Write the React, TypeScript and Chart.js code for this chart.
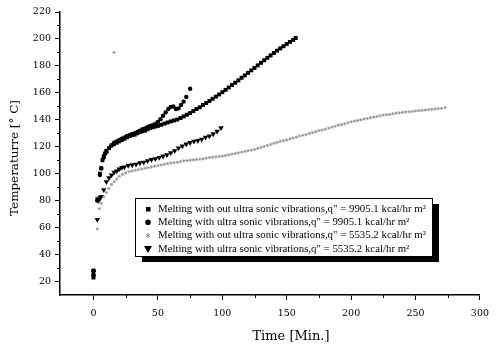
import React, { useEffect, useRef } from 'react';
import { Chart, registerables } from 'chart.js';
Chart.register(...registerables);

// ---- data ----
const squaresTime = [0, 0, 3, 5, 6, 7, 8, 9, 10, 12, 14, 16, 18, 20, 22, 24, 26, 28, 30, 32, 34, 36, 38, 40, 42, 44, 46, 48, 50, 52.5, 55, 57.5, 60, 62.5, 65, 67.5, 70, 72.5, 75, 77.5, 80, 82.5, 85, 87.5, 90, 92.5, 95, 97.5, 100, 102.5, 105, 107.5, 110, 112.5, 115, 117.5, 120, 122.5, 125, 127.5, 130, 132.5, 135, 137.5, 140, 142.5, 145, 147.5, 150, 152.5, 155, 157];
const squaresTemp = [23, 28, 81, 100, 104, 110, 113, 115, 117, 119, 121, 122, 123, 124, 125, 126, 127, 128, 128.5, 129, 130, 131, 131.5, 132, 133, 134, 134.5, 135, 135.5, 136.3, 137.2, 138, 138.8, 139.5, 140.2, 141.3, 142.5, 143.8, 145, 146.5, 148, 149.3, 151, 152.5, 154, 155.6, 157.2, 158.8, 160.5, 162.2, 164, 165.8, 167.5, 169.3, 171.2, 173, 174.8, 176.7, 178.5, 180.4, 182.3, 184.2, 186, 187.8, 189.6, 191.3, 193, 194.6, 196.2, 197.8, 199.3, 200.7, 202];

const circlesTime = [0, 0, 3, 5, 6, 8, 10, 12, 14, 16, 18, 20, 22, 24, 26, 28, 30, 32, 34, 36, 38, 40, 42, 44, 46, 48, 50, 52, 54, 56, 58, 60, 62, 64, 66, 68, 70, 72, 75];
const circlesTemp = [25, 28, 80, 99, 104, 112, 116, 119, 121, 123, 124, 125, 126, 127, 128, 128.5, 129.5, 130, 131, 132, 133, 133.5, 134.5, 135.5, 136, 137, 138.5, 140.5, 143, 145.5, 148, 149.5, 150, 148, 148.5, 151, 153.5, 157, 163];

const starsTime = [3, 4.5, 6, 8, 10, 12, 14, 16, 18, 20, 22.5, 25, 27.5, 30, 32.5, 35, 37.5, 40, 42.5, 45, 47.5, 50, 52.5, 55, 57.5, 60, 62.5, 65, 67.5, 70, 72.5, 75, 77.5, 80, 82.5, 85, 87.5, 90, 92.5, 95, 97.5, 100, 102.5, 105, 107.5, 110, 112.5, 115, 117.5, 120, 122.5, 125, 127.5, 130, 132.5, 135, 137.5, 140, 142.5, 145, 147.5, 150, 152.5, 155, 157.5, 160, 162.5, 165, 167.5, 170, 172.5, 175, 177.5, 180, 182.5, 185, 187.5, 190, 192.5, 195, 197.5, 200, 202.5, 205, 207.5, 210, 212.5, 215, 217.5, 220, 222.5, 225, 227.5, 230, 232.5, 235, 237.5, 240, 242.5, 245, 247.5, 250, 252.5, 255, 257.5, 260, 262.5, 265, 267.5, 270, 273, 16];
const starsTemp = [59, 74, 78, 83, 86, 89, 92, 94, 96, 98, 99.5, 100.5, 101.5, 102, 102.5, 103, 103.5, 104, 104.5, 105, 105.5, 106, 106.5, 107, 107.5, 108, 108.2, 108.5, 109, 109.5, 109.8, 110, 110.3, 110.5, 110.8, 111, 111.5, 112, 112.2, 112.5, 112.8, 113, 113.5, 114, 114.5, 115, 115.5, 116, 116.5, 117, 117.5, 118, 118.8, 119.5, 120.2, 121, 121.8, 122.5, 123.2, 124, 124.5, 125, 125.8, 126.5, 127.2, 128, 128.5, 129, 129.8, 130.5, 131.2, 132, 132.5, 133, 133.8, 134.5, 135.2, 136, 136.5, 137, 137.8, 138.5, 139, 139.5, 140, 140.5, 141, 141.5, 142, 142.5, 143, 143.5, 143.8, 144, 144.5, 145, 145.2, 145.5, 145.8, 146, 146.2, 146.5, 146.8, 147, 147.2, 147.5, 147.8, 148, 148.2, 148.5, 149, 190];

const trianglesTime = [0, 0, 3, 4, 5, 6, 8, 10, 12, 14, 16, 18, 20, 22, 24, 27, 30, 33, 36, 39, 42, 45, 48, 51, 54, 57, 60, 63, 66, 69, 72, 75, 78, 81, 84, 87, 90, 93, 96, 99];
const trianglesTemp = [24, 27, 66, 80, 82, 83, 88, 94, 97, 99, 101, 102, 103.5, 104.5, 105, 106, 106.5, 107, 108, 108.5, 109.5, 110.5, 111, 112, 113, 114, 115.5, 117, 119, 120.5, 122, 123, 124, 124.5, 125.5, 127, 128, 129.5, 131.5, 134];

const seriesLabels = [
  'Melting with out ultra sonic vibrations,q" = 9905.1 kcal/hr m²',
  'Melting with ultra sonic vibrations,q" = 9905.1 kcal/hr m²',
  'Melting with out ultra sonic vibrations,q" = 5535.2 kcal/hr m²',
  'Melting with ultra sonic vibrations,q" = 5535.2 kcal/hr m²',
];

const xTickValues = [0, 50, 100, 150, 200, 250, 300];
const yTickValues = [20, 40, 60, 80, 100, 120, 140, 160, 180, 200, 220];
const xMinorValues = [25, 75, 125, 175, 225, 275];
const yMinorValues = [30, 50, 70, 90, 110, 130, 150, 170, 190, 210];

const xTitle = 'Time [Min.]';
const yTitle = 'Temperaturre [° C]';

const pts = (xs: number[], ys: number[]) => xs.map((x, i) => ({ x, y: ys[i] }));

const SERIF = '"DejaVu Serif", "Liberation Serif", serif';
const TIMES = '"Liberation Serif", "DejaVu Serif", serif';
const GREY = '#8a8a8a';

function fitFont(ctx: CanvasRenderingContext2D, text: string, target: number, base: number, fam: string) {
  ctx.font = `${base}px ${fam}`;
  const w = ctx.measureText(text).width;
  return (base * target) / w;
}

function drawMarker(ctx: CanvasRenderingContext2D, kind: number, x: number, y: number) {
  ctx.save();
  if (kind === 0) {
    ctx.fillStyle = '#000';
    ctx.fillRect(x - 2, y - 2, 4.5, 4.5);
  } else if (kind === 1) {
    ctx.fillStyle = '#000';
    ctx.beginPath();
    ctx.arc(x, y, 2.8, 0, Math.PI * 2);
    ctx.fill();
  } else if (kind === 2) {
    ctx.strokeStyle = GREY;
    ctx.lineWidth = 1;
    ctx.beginPath();
    for (let k = 0; k < 3; k++) {
      const a = (k * Math.PI) / 3 + Math.PI / 2;
      ctx.moveTo(x - 2.5 * Math.cos(a), y - 2.5 * Math.sin(a));
      ctx.lineTo(x + 2.5 * Math.cos(a), y + 2.5 * Math.sin(a));
    }
    ctx.stroke();
  } else {
    ctx.fillStyle = '#000';
    ctx.beginPath();
    ctx.moveTo(x - 4, y - 3);
    ctx.lineTo(x + 4, y - 3);
    ctx.lineTo(x, y + 4);
    ctx.closePath();
    ctx.fill();
  }
  ctx.restore();
}

const extrasPlugin = {
  id: 'extras',
  afterDraw(chart: any) {
    const ctx: CanvasRenderingContext2D = chart.ctx;
    const xs = chart.scales.x;
    const ys = chart.scales.y;
    const area = chart.chartArea;
    ctx.save();
    // minor ticks
    ctx.strokeStyle = '#000';
    ctx.lineWidth = 1;
    ctx.beginPath();
    xMinorValues.forEach((v) => {
      const px = Math.round(xs.getPixelForValue(v)) + 0.5;
      ctx.moveTo(px, area.bottom);
      ctx.lineTo(px, area.bottom + 3);
    });
    yMinorValues.forEach((v) => {
      const py = Math.round(ys.getPixelForValue(v)) + 0.5;
      ctx.moveTo(area.left, py);
      ctx.lineTo(area.left - 3, py);
    });
    ctx.stroke();

    // axis titles
    ctx.fillStyle = '#000';
    ctx.textAlign = 'center';
    ctx.textBaseline = 'middle';
    const xs1 = Math.min(13, fitFont(ctx, xTitle, 88, 12, SERIF));
    ctx.font = `${xs1}px ${SERIF}`;
    ctx.fillText(xTitle, 291, 337);
    const ys1 = Math.min(13, fitFont(ctx, yTitle, 116, 12, SERIF));
    ctx.font = `${ys1}px ${SERIF}`;
    ctx.save();
    ctx.translate(15, 158);
    ctx.rotate(-Math.PI / 2);
    ctx.fillText(yTitle, 0, 0);
    ctx.restore();

    // legend box with shadow
    const bx = 135, by = 198, bw = 297, bh = 58;
    ctx.fillStyle = '#000';
    ctx.fillRect(bx + 7, by + 6, bw, bh);
    ctx.fillStyle = '#fff';
    ctx.fillRect(bx, by, bw, bh);
    ctx.strokeStyle = '#000';
    ctx.lineWidth = 1;
    ctx.strokeRect(bx + 0.5, by + 0.5, bw, bh);
    const ls = fitFont(ctx, seriesLabels[0], 268, 11, TIMES);
    ctx.font = `${ls}px ${TIMES}`;
    ctx.textAlign = 'left';
    ctx.textBaseline = 'middle';
    seriesLabels.forEach((lab, i) => {
      const ry = 209 + i * 13.3;
      drawMarker(ctx, i, 148, ry);
      ctx.fillStyle = '#000';
      ctx.fillText(lab, 158, ry);
    });
    ctx.restore();
  },
};

export default function App() {
  const ref = useRef<HTMLCanvasElement>(null);
  useEffect(() => {
    document.body.style.margin = '0';
    const canvas = ref.current!;
    const chart = new Chart(canvas, {
      type: 'scatter',
      data: {
        datasets: [
          {
            label: seriesLabels[2],
            data: pts(starsTime, starsTemp),
            pointStyle: 'star',
            pointRadius: 1.6,
            borderColor: GREY,
            backgroundColor: GREY,
            borderWidth: 0.7,
          },
          {
            label: seriesLabels[3],
            data: pts(trianglesTime, trianglesTemp),
            pointStyle: 'triangle',
            rotation: 180,
            pointRadius: 3.2,
            borderColor: '#000',
            backgroundColor: '#000',
            borderWidth: 0,
          },
          {
            label: seriesLabels[0],
            data: pts(squaresTime, squaresTemp),
            pointStyle: 'rect',
            pointRadius: 2.8,
            borderColor: '#000',
            backgroundColor: '#000',
            borderWidth: 0,
          },
          {
            label: seriesLabels[1],
            data: pts(circlesTime, circlesTemp),
            pointStyle: 'circle',
            pointRadius: 2.2,
            borderColor: '#000',
            backgroundColor: '#000',
            borderWidth: 0,
          },
        ],
      },
      options: {
        responsive: false,
        animation: false,
        layout: { padding: { left: 0, top: 12, right: 11, bottom: 0 } },
        plugins: { legend: { display: false }, tooltip: { enabled: false } },
        scales: {
          x: {
            type: 'linear',
            min: -26,
            max: 300,
            afterBuildTicks: (s: any) => {
              s.ticks = xTickValues.map((v) => ({ value: v }));
            },
            afterFit: (s: any) => {
              s.height = 52;
            },
            border: { display: true, color: '#000', width: 1.5 },
            grid: { drawOnChartArea: false, drawTicks: true, tickLength: 5, color: '#000', lineWidth: 1 },
            ticks: { color: '#000', padding: 8, font: { family: SERIF, size: 9.5 }, maxRotation: 0 },
          },
          y: {
            type: 'linear',
            min: 10,
            max: 220,
            afterBuildTicks: (s: any) => {
              s.ticks = yTickValues.map((v) => ({ value: v }));
            },
            afterFit: (s: any) => {
              s.width = 60;
            },
            border: { display: true, color: '#000', width: 1.5 },
            grid: { drawOnChartArea: false, drawTicks: true, tickLength: 5, color: '#000', lineWidth: 1 },
            ticks: { color: '#000', padding: 4, font: { family: SERIF, size: 9.5 } },
          },
        },
      },
      plugins: [extrasPlugin],
    });
    return () => chart.destroy();
  }, []);
  return (
    <div style={{ width: 497, height: 347, background: '#fff' }}>
      <canvas ref={ref} width={497} height={347} />
    </div>
  );
}
